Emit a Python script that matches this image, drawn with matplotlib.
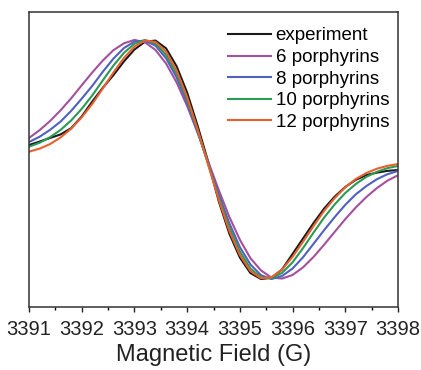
import numpy as np
import matplotlib
matplotlib.use('Agg')
import matplotlib.pyplot as plt
from matplotlib.ticker import MultipleLocator

plt.rcParams['font.family'] = ['Liberation Sans', 'DejaVu Sans']

# magnetic field grid (G), 0.2 G steps
field = np.arange(36) * 0.2 + 3391.0

# normalised EPR first-derivative signals
experiment = [0.121, 0.150, 0.180, 0.210, 0.262, 0.360, 0.485, 0.600, 0.705, 0.820,
              0.920, 0.985, 0.995, 0.930, 0.780, 0.560, 0.280, -0.020, -0.350, -0.620,
              -0.820, -0.950, -1.000, -0.990, -0.920, -0.790, -0.660, -0.530, -0.410, -0.310,
              -0.230, -0.170, -0.130, -0.110, -0.095, -0.088]
p6 = [0.180, 0.245, 0.322, 0.412, 0.512, 0.621, 0.728, 0.828, 0.914, 0.972,
      1.000, 0.981, 0.916, 0.803, 0.645, 0.448, 0.221, -0.018, -0.256, -0.480,
      -0.671, -0.825, -0.928, -0.988, -0.996, -0.966, -0.902, -0.814, -0.712, -0.605,
      -0.499, -0.401, -0.314, -0.239, -0.177, -0.132]
p8 = [0.146, 0.190, 0.248, 0.318, 0.407, 0.509, 0.616, 0.734, 0.843, 0.932,
      0.986, 0.995, 0.952, 0.847, 0.687, 0.478, 0.231, -0.033, -0.294, -0.533,
      -0.733, -0.878, -0.968, -1.000, -0.975, -0.912, -0.817, -0.704, -0.590, -0.481,
      -0.379, -0.291, -0.222, -0.165, -0.123, -0.096]
p10 = [0.107, 0.140, 0.187, 0.248, 0.327, 0.424, 0.536, 0.662, 0.785, 0.892,
       0.968, 1.000, 0.970, 0.875, 0.717, 0.499, 0.238, -0.042, -0.320, -0.570,
       -0.770, -0.912, -0.986, -0.994, -0.949, -0.860, -0.740, -0.610, -0.485, -0.375,
       -0.280, -0.205, -0.145, -0.103, -0.072, -0.054]
p12 = [0.065, 0.091, 0.129, 0.185, 0.258, 0.353, 0.465, 0.594, 0.727, 0.849,
       0.944, 0.996, 0.984, 0.903, 0.745, 0.522, 0.251, -0.044, -0.337, -0.597,
       -0.799, -0.933, -0.994, -0.985, -0.921, -0.814, -0.687, -0.555, -0.429, -0.322,
       -0.232, -0.163, -0.113, -0.077, -0.053, -0.038]

labels = ['experiment', '6 porphyrins', '8 porphyrins', '10 porphyrins', '12 porphyrins']
colors = ['#1a1a1a', '#a4509e', '#5060c0', '#2a9a55', '#e8602e']

fig = plt.figure(figsize=(4.21, 3.70), dpi=100)
ax = fig.add_axes([29/421, 1-307/370, 369/421, 295/370])

for y, lab, c in zip([experiment, p6, p8, p10, p12], labels, colors):
    ax.plot(field, y, color=c, lw=1.5, label=lab)

ax.set_xlim(3391, 3398)
ax.set_ylim(-1.234, 1.234)
ax.xaxis.set_major_locator(MultipleLocator(1))
ax.xaxis.set_minor_locator(MultipleLocator(0.5))
ax.set_yticks([])
ax.tick_params(axis='x', which='major', direction='out', length=3.6, width=1.0,
               labelsize=14.5, pad=5.5, colors='#222222')
ax.tick_params(axis='x', which='minor', direction='out', length=2.2, width=1.0)
for s in ax.spines.values():
    s.set_linewidth(1.1)
    s.set_color('#333333')

ax.set_xlabel('Magnetic Field (G)', fontsize=17, color='#222222', labelpad=4)

ax.legend(loc='upper left', bbox_to_anchor=(0.539, 0.948), frameon=False,
          fontsize=13.5, handlelength=2.3, handletextpad=0.25, labelspacing=0.24,
          borderpad=0, borderaxespad=0)

fig.savefig('out.png', dpi=100)
